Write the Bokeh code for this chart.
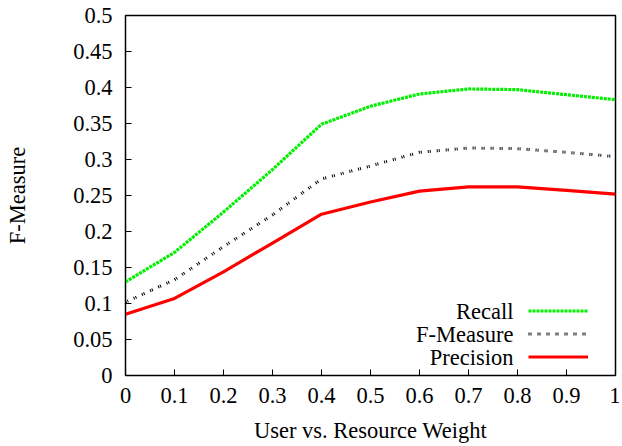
from bokeh.plotting import figure
from bokeh.models import Legend, LegendItem, Label, Range1d, FixedTicker
from bokeh.embed import file_html
from bokeh.resources import INLINE

weights = [0.0, 0.1, 0.2, 0.3, 0.4, 0.5, 0.6, 0.7, 0.8, 0.9, 1.0]
recall = [0.130, 0.171, 0.227, 0.286, 0.349, 0.374, 0.391, 0.398, 0.397, 0.390, 0.383]
fmeasure = [0.102, 0.133, 0.179, 0.223, 0.273, 0.291, 0.310, 0.316, 0.315, 0.310, 0.304]
precision = [0.085, 0.107, 0.144, 0.184, 0.224, 0.241, 0.256, 0.262, 0.262, 0.257, 0.252]
x_ticks = [0, 0.1, 0.2, 0.3, 0.4, 0.5, 0.6, 0.7, 0.8, 0.9, 1]
y_ticks = [0, 0.05, 0.1, 0.15, 0.2, 0.25, 0.3, 0.35, 0.4, 0.45, 0.5]
series_names = ["Recall", "F-Measure", "Precision"]

FONT = "Liberation Serif"
FS = "22.5px"

p = figure(width=620, height=445, output_backend="svg", toolbar_location=None,
           x_range=Range1d(0, 1), y_range=Range1d(0, 0.5),
           min_border_left=125, min_border_right=5, min_border_top=15, min_border_bottom=70)
p.background_fill_color = "white"
p.border_fill_color = "white"
p.outline_line_color = "black"
p.outline_line_width = 1.5
p.grid.visible = False

r1 = p.line(weights, recall, line_color="#00f000", line_width=3.2, line_dash="3 1")
r2 = p.line(weights, fmeasure, line_color="black", line_width=3, line_dash="1 1 1 6")
r3 = p.line(weights, precision, line_color="#ff0000", line_width=3.2)

for ax in (p.xaxis[0], p.yaxis[0]):
    ax.major_tick_in = 6
    ax.major_tick_out = 0
    ax.minor_tick_in = 0
    ax.minor_tick_out = 0
    ax.axis_line_color = "black"
    ax.major_tick_line_color = "black"
    ax.major_label_text_font = FONT
    ax.major_label_text_font_size = FS
    ax.major_label_text_color = "black"
    ax.axis_label_text_font = FONT
    ax.axis_label_text_font_size = FS
    ax.axis_label_text_font_style = "normal"
    ax.axis_label_text_color = "black"

p.xaxis[0].ticker = FixedTicker(ticks=x_ticks)
p.yaxis[0].ticker = FixedTicker(ticks=y_ticks)
p.xaxis[0].major_label_overrides = {t: ("%g" % t) for t in x_ticks}
p.yaxis[0].major_label_overrides = {t: ("%g" % t) for t in y_ticks}
p.xaxis[0].axis_label = "User vs. Resource Weight"
p.yaxis[0].axis_label = "F-Measure"
p.xaxis[0].major_label_standoff = 12
p.yaxis[0].major_label_standoff = 13
p.xaxis[0].axis_label_standoff = 12
p.yaxis[0].axis_label_standoff = 40

legend = Legend(items=[LegendItem(label=" ", renderers=[r]) for r in (r1, r2, r3)],
                location=(403, 7), margin=0, padding=0, spacing=0,
                glyph_width=60, glyph_height=23, label_height=23, label_width=1,
                label_standoff=0, label_text_font_size="1px",
                border_line_color=None, background_fill_alpha=0)
p.add_layout(legend)

for i, name in enumerate(series_names):
    p.add_layout(Label(x=388, y=64 - 23 * i, x_units="screen", y_units="screen",
                       text=name, text_align="right", text_baseline="middle",
                       text_font=FONT, text_font_size=FS, text_color="black"))

open("out.html", "w").write(file_html(p, INLINE))
